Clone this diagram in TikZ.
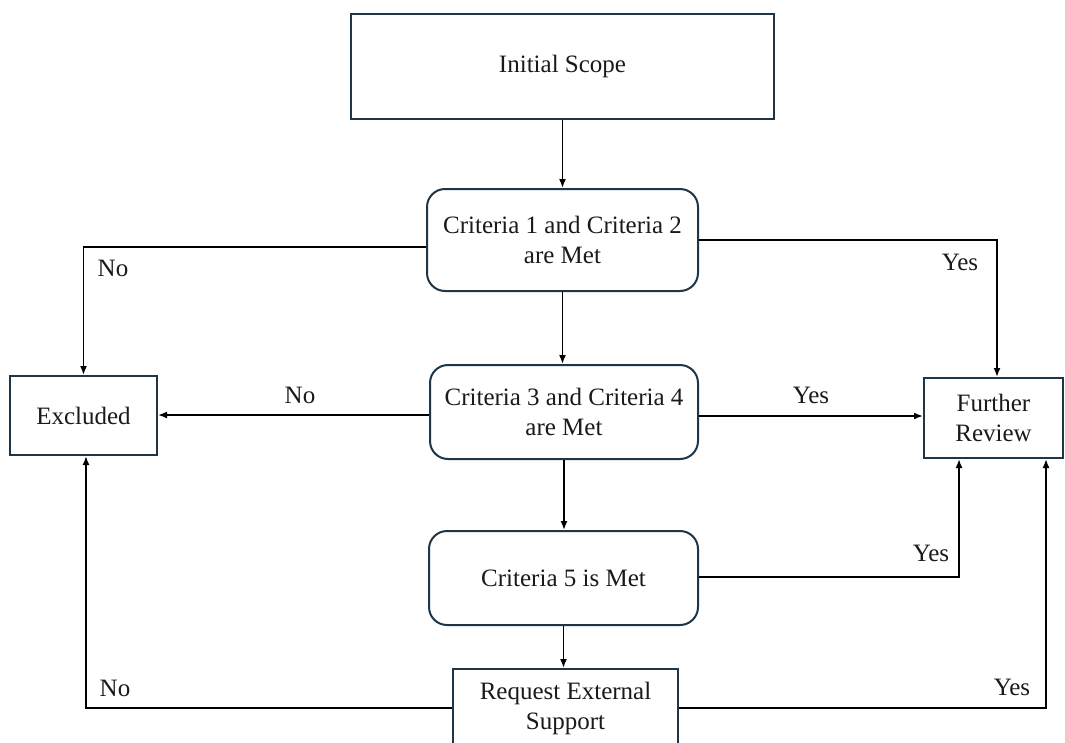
\documentclass[tikz,border=0pt]{standalone}
\usepackage{fontspec}
\setmainfont{Liberation Serif}
\usetikzlibrary{arrows.meta}
\definecolor{boxline}{HTML}{1E3647}
\definecolor{txt}{HTML}{1A1A1A}
\tikzset{
  every node/.style={font=\fontsize{25}{30}\selectfont, text=txt},
  plainbox/.style={draw=boxline, line width=2pt, rectangle, align=center, inner sep=0pt},
  roundbox/.style={plainbox, rounded corners=18pt},
  arr/.style={draw=black, line width=1.7pt, -{Latex[length=9pt,width=7pt]}},
  lbl/.style={inner sep=0pt}
}
\begin{document}
\begin{tikzpicture}[x=1pt,y=-1pt]
\useasboundingbox (0,0) rectangle (1065,742);
\clip (0,0) rectangle (1065,742);
\fill[white] (0,0) rectangle (1065,742);

\node[plainbox, minimum width=423pt, minimum height=105pt] (init) at (562.5,66.5) {Initial Scope};
\node[roundbox, minimum width=271pt, minimum height=102pt] (c12) at (562.5,240) {Criteria 1 and Criteria 2\\are Met};
\node[roundbox, minimum width=268pt, minimum height=94pt] (c34) at (564,412) {Criteria 3 and Criteria 4\\are Met};
\node[roundbox, minimum width=269pt, minimum height=94pt] (c5) at (563.5,578) {Criteria 5 is Met};
\node[plainbox, minimum width=225pt, minimum height=78pt] (req) at (565.5,708) {Request External\\Support};
\node[plainbox, minimum width=147pt, minimum height=79pt] (excl) at (83.5,415.5) {Excluded};
\node[plainbox, minimum width=139pt, minimum height=80pt] (fr) at (993.5,418) {Further\\Review};

\draw[arr] (init.south) -- (init.south |- c12.north);
\draw[arr] (c12.west |- 0,247) -| (excl.north);
\draw[arr] (c12.east) -| ([xshift=3.5pt]fr.north);
\draw[arr] (c12.south) -- (c12.south |- c34.north);
\draw[arr] (c34.west |- 0,415) -- (excl.east |- 0,415);
\draw[arr] (c34.east |- 0,416) -- (fr.west |- 0,416);
\draw[arr] (c34.south) -- (c34.south |- c5.north);
\draw[arr] (c5.east |- 0,577) -| ([xshift=-34.5pt]fr.south);
\draw[arr] (c5.south) -- (c5.south |- req.north);
\draw[arr] (req.west) -| ([xshift=2.5pt]excl.south);
\draw[arr] (req.east) -| ([xshift=52.5pt]fr.south);

\node[lbl] (l1) at (113,268) {No};
\node[lbl] (l2) at (300,395) {No};
\node[lbl] (l3) at (811,395) {Yes};
\node[lbl] (l4) at (960,262) {Yes};
\node[lbl] (l5) at (931,553) {Yes};
\node[lbl] (l6) at (1012,687) {Yes};
\node[lbl] (l7) at (115,688) {No};
\end{tikzpicture}
\end{document}
